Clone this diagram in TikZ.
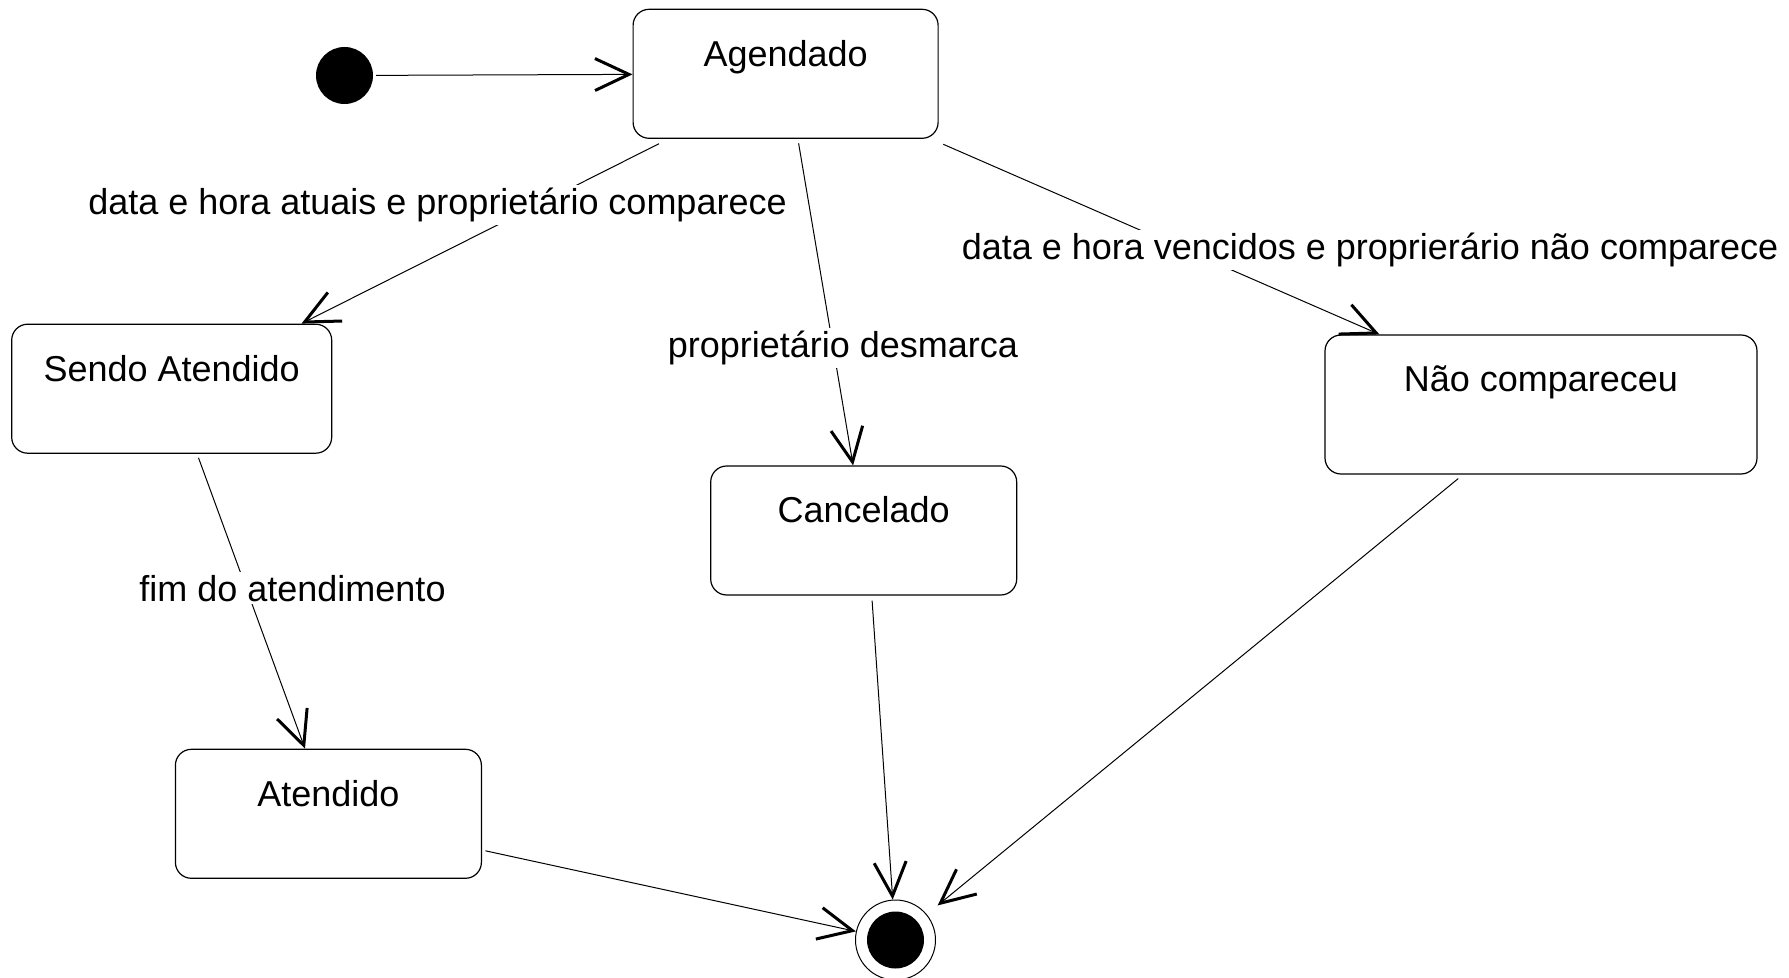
\documentclass[tikz,border=0pt]{standalone}
\usepackage{fontspec}
\setmainfont{Liberation Sans}
\usepackage{tikz}
\usetikzlibrary{calc}
\usetikzlibrary{arrows.meta}
\tikzset{statebox/.style={draw, line width=0.6pt, rounded corners=8pt, inner sep=0pt, minimum width=152.5pt, minimum height=64.5pt, text height=13pt, text depth=20.5pt}}
\tikzset{trans/.style={line width=0.5pt, -{Straight Barb[length=17pt,width=16pt,line width=1.5pt]}}}
\tikzset{guard/.style={fill=white, inner sep=1.5pt, anchor=base}}

\begin{document}
\begin{tikzpicture}[x=50pt, y=50pt]
	% Default font for each node
	\tikzstyle{every node}=[font=\fontsize{18}{22}\selectfont];
	\useasboundingbox (0,0) rectangle (17.89,-9.78);

	% Start and end
	\node[circle, fill, inner sep=0pt, minimum size=28.5pt, outer sep=1.5pt] (init) at (3.445,-0.755) {};
	\node[circle, draw, line width=0.5pt, inner sep=0pt, minimum size=40pt] (final) at (8.955,-9.40) {};
	\fill (final.center) circle (14.25pt);

	% States
	\node[statebox] (agendado) at (7.856,-0.738) {Agendado};
	\node[statebox, minimum width=160pt] (sendo) at (1.717,-3.887) {Sendo Atendido};
	\node[statebox, minimum width=153pt] (cancelado) at (8.637,-5.305) {Cancelado};
	\node[statebox, minimum width=216pt, minimum height=69.5pt, text depth=25.5pt] (nao) at (15.41,-4.045) {Não compareceu};
	\node[statebox, minimum width=153pt] (atendido) at (3.284,-8.138) {Atendido};

	% Transitions
	\draw[trans] (init) -- (agendado);
	\draw[trans] ([xshift=-63.3pt,yshift=-2.4pt]agendado.south) -- ([xshift=-15.4pt]sendo.north east);
	\draw[trans] ([xshift=6.5pt,yshift=-2.2pt]agendado.south) -- ([xshift=-5.3pt]cancelado.north);
	\draw[trans] ([xshift=2.3pt,yshift=-2.7pt]agendado.south east) -- ([xshift=27.5pt]nao.north west);
	\draw[trans] ([xshift=13.4pt,yshift=-2pt]sendo.south) -- ([xshift=-11.7pt]atendido.north);
	\draw[trans] ([xshift=1.7pt,yshift=-18.5pt]atendido.east) -- (final);
	\draw[trans] ([xshift=4.2pt,yshift=-2.5pt]cancelado.south) -- (final);
	\draw[trans, shorten >=7pt] ([xshift=-41.4pt,yshift=-2pt]nao.south) -- (final);

	% Guards
	\node[guard] (g1) at (4.375,-2.15) {data e hora atuais e proprietário comparece};
	\node[guard] (g2) at (13.70,-2.60) {data e hora vencidos e proprierário não comparece};
	\node[guard] (g3) at (8.43,-3.58) {proprietário desmarca};
	\node[guard] (g4) at (2.925,-6.01) {fim do atendimento};
\end{tikzpicture}
\end{document}
